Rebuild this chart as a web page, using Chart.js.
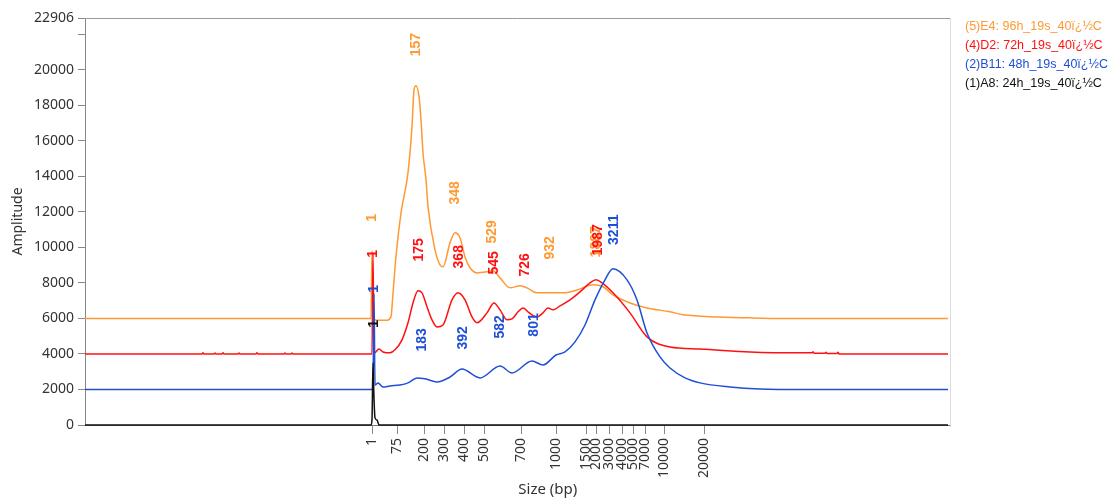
<!DOCTYPE html>
<html>
<head>
<meta charset="utf-8">
<title>Electropherogram overlay</title>
<script src="https://cdn.jsdelivr.net/npm/chart.js@4/dist/chart.umd.min.js"></script>
<style>
    html, body { margin: 0; padding: 0; background: #fff; }
    #wrap { position: relative; width: 1116px; height: 500px; }
</style>
</head>
<body>
<div id="wrap"><canvas id="traceChart" width="1116" height="500"></canvas></div>
<script>
'use strict';

/* ── Data ─────────────────────────────────────────────────────
 * x is the scan position along the run; the size ladder below maps
 * scan positions to the bp labels shown on the axis.
 * ─────────────────────────────────────────────────────────── */
var seriesNames  = ['(5)E4: 96h_19s_40ï¿½C', '(4)D2: 72h_19s_40ï¿½C', '(2)B11: 48h_19s_40ï¿½C', '(1)A8: 24h_19s_40ï¿½C'];
var seriesColors = ['#FF9933', '#FF1010', '#1F4FD6', '#111111'];

var sizeLabels = [1, 75, 200, 300, 400, 500, 700, 1000, 1500, 2000, 3000, 4000, 5000, 7000, 10000, 20000];
var sizeScan   = [287, 312, 339, 359, 379, 399, 436, 471, 501, 511, 524, 537, 548, 560, 579, 619];

var yTickValues = [0, 2000, 4000, 6000, 8000, 10000, 12000, 14000, 16000, 18000, 20000, 22000, 22906];
var yMax = 22906;

// [scan, amplitude]
var e4Trace = [
    [0, 6000], [286, 6000], [287, 9800], [288, 6050], [292, 5900], [302, 5900], [306, 6100], [308, 7400],
    [311, 9500], [316, 11940], [323, 14200], [327, 16800], [329, 18870], [331, 19100], [334, 18480],
    [336, 17180], [338, 15320], [341, 13800], [343, 12300], [350, 9860], [355, 9010], [358, 8900],
    [365, 10250], [370, 10820], [375, 10540], [380, 9460], [385, 8850], [392, 8560], [402, 8620],
    [408, 8680], [415, 8280], [425, 7720], [435, 7830], [442, 7720], [452, 7440], [472, 7440],
    [485, 7490], [495, 7660], [508, 7890], [518, 7780], [528, 7320], [545, 6870], [562, 6590],
    [585, 6370], [598, 6200], [635, 6080], [665, 6030], [700, 6000], [863, 6000]
];
var d2Trace = [
    [0, 4000], [117, 4000], [118, 4060], [119, 4000], [129, 4000], [130, 4050], [131, 4000],
    [137, 4000], [138, 4070], [139, 4000], [153, 4000], [154, 4050], [155, 4000], [171, 4000],
    [172, 4060], [173, 4000], [199, 4000], [200, 4050], [201, 4000], [206, 4000], [207, 4050],
    [208, 4000], [287, 4000], [288, 9700], [289, 4050], [290, 4070], [294, 4280], [298, 4110],
    [305, 4060], [310, 4230], [317, 4790], [323, 5750], [328, 6870], [333, 7550], [337, 7440],
    [342, 6650], [347, 5920], [352, 5520], [358, 5630], [367, 7040], [373, 7440], [380, 7040],
    [387, 6080], [392, 5750], [402, 6310], [409, 6870], [415, 6480], [422, 5920], [427, 5970],
    [433, 6370], [438, 6590], [443, 6370], [452, 6080], [458, 6310], [463, 6590], [468, 6480],
    [475, 6700], [485, 7040], [495, 7490], [505, 8000], [511, 8170], [517, 8000], [528, 7440],
    [545, 6310], [562, 4960], [585, 4390], [615, 4280], [665, 4110], [715, 4060], [727, 4060],
    [728, 4120], [729, 4040], [740, 4040], [741, 4100], [742, 4030], [752, 4030], [753, 4090],
    [754, 4000], [765, 4000], [863, 4000]
];
var b11Trace = [
    [0, 2000], [287, 2000], [288, 2300], [289, 7400], [290, 2250], [293, 2370], [298, 2140],
    [305, 2200], [315, 2250], [323, 2370], [332, 2650], [340, 2600], [352, 2420], [365, 2700],
    [377, 3150], [395, 2650], [415, 3320], [427, 2930], [447, 3600], [458, 3380], [471, 3940],
    [480, 4110], [490, 4680], [500, 5630], [510, 7040], [520, 8170], [528, 8790], [542, 8170],
    [552, 7040], [562, 5180], [575, 3830], [585, 3210], [600, 2650], [615, 2370], [645, 2140],
    [675, 2030], [720, 2000], [863, 2000]
];
var a8Trace = [
    [0, 0], [286, 0], [287, 300], [288, 3500], [289, 1500], [290, 400], [292, 280], [294, 0], [863, 0]
];

// peak calls: [text, scan, amplitude at label centre]
var e4Peaks  = [['1', 287, 11660], ['157', 331, 21410], ['348', 370, 13070], ['529', 407, 10870], ['932', 465, 9970], ['1887', 511, 10310]];
var d2Peaks  = [['1', 288, 9630], ['175', 334, 9860], ['368', 374, 9470], ['545', 409, 9130], ['726', 440, 9010], ['1987', 513, 10420]];
var b11Peaks = [['1', 289, 7660], ['183', 337, 4790], ['392', 378, 4900], ['582', 415, 5520], ['801', 449, 5630], ['3211', 529, 10990]];
var a8Peaks  = [['1', 289, 5690]];

(function () {
    document.addEventListener('DOMContentLoaded', init);

    function toPoints(trace) {
        return trace.map(function (p) { return { x: p[0], y: p[1] }; });
    }

    function init() {
        if (typeof window.Chart === 'undefined') return;

        var traces = [e4Trace, d2Trace, b11Trace, a8Trace];
        var peaks  = [e4Peaks, d2Peaks, b11Peaks, a8Peaks];

        var datasets = traces.map(function (t, i) {
            return {
                label: seriesNames[i],
                data: toPoints(t),
                borderColor: seriesColors[i],
                borderWidth: 1.5,
                pointRadius: 0,
                cubicInterpolationMode: 'monotone',
                clip: 4,
                order: traces.length - i,   // orange at the back, black in front
            };
        });

        var tickFont = { family: '"Noto Sans", sans-serif', size: 14 };

        /* frame, legend text, peak calls, x title */
        var decor = {
            id: 'decor',
            afterDatasetsDraw: function (chart) {
                var ctx = chart.ctx, a = chart.chartArea;
                var xs = chart.scales.x, ys = chart.scales.y;
                ctx.save();

                ctx.strokeStyle = '#9a9a9a';
                ctx.lineWidth = 1;
                ctx.beginPath();
                ctx.moveTo(a.left, a.top + 0.5);
                ctx.lineTo(a.right, a.top + 0.5);
                ctx.stroke();
                ctx.strokeStyle = '#dcdcdc';
                ctx.beginPath();
                ctx.moveTo(a.right + 0.5, a.top);
                ctx.lineTo(a.right + 0.5, a.bottom + 2);
                ctx.stroke();

                // peak call labels, rotated
                ctx.font = 'bold 14px "Liberation Sans", Arial, sans-serif';
                ctx.textAlign = 'center';
                ctx.textBaseline = 'middle';
                peaks.forEach(function (list, i) {
                    ctx.fillStyle = seriesColors[i];
                    list.forEach(function (pk) {
                        ctx.save();
                        ctx.translate(xs.getPixelForValue(pk[1]), ys.getPixelForValue(pk[2]));
                        ctx.rotate(-Math.PI / 2);
                        ctx.fillText(pk[0], 0, 0);
                        ctx.restore();
                    });
                });

                // legend: coloured text only
                ctx.font = '12.5px "Liberation Sans", Arial, sans-serif';
                ctx.textAlign = 'left';
                seriesNames.forEach(function (name, i) {
                    ctx.fillStyle = seriesColors[i];
                    ctx.fillText(name, a.right + 15, a.top + 9 + i * 19);
                });

                // x title
                ctx.fillStyle = '#333';
                ctx.font = '15px "Noto Sans", sans-serif';
                ctx.textAlign = 'center';
                ctx.fillText('Size (bp)', a.left + a.width * 0.535, 490);
                ctx.restore();
            },
        };

        new Chart(document.getElementById('traceChart').getContext('2d'), {
            type: 'line',
            data: { datasets: datasets },
            plugins: [decor],
            options: {
                responsive: false,
                animation: false,
                layout: { padding: { top: 18, right: 166, left: 0, bottom: 0 } },
                plugins: { legend: { display: false }, tooltip: { enabled: false } },
                scales: {
                    x: {
                        type: 'linear',
                        min: 0,
                        max: 865,
                        afterFit: function (s) { s.height = 75; },
                        afterBuildTicks: function (s) {
                            s.ticks = sizeScan.map(function (v) { return { value: v }; });
                        },
                        grid: { drawOnChartArea: false, tickLength: 9, color: '#888' },
                        border: { display: true, color: '#777' },
                        ticks: {
                            autoSkip: false,
                            minRotation: 90,
                            maxRotation: 90,
                            padding: 4,
                            color: '#333',
                            font: tickFont,
                            callback: function (v) {
                                var k = sizeScan.indexOf(v);
                                return k < 0 ? '' : String(sizeLabels[k]);
                            },
                        },
                    },
                    y: {
                        min: 0,
                        max: yMax,
                        afterFit: function (s) { s.width = 85; },
                        afterBuildTicks: function (s) {
                            s.ticks = yTickValues.map(function (v) { return { value: v }; });
                        },
                        grid: { drawOnChartArea: false, tickLength: 7, color: '#888' },
                        border: { display: true, color: '#888' },
                        title: {
                            display: true,
                            text: 'Amplitude',
                            color: '#333',
                            font: { family: '"Noto Sans", sans-serif', size: 14 },
                            padding: { top: 10, bottom: 0 },
                        },
                        ticks: {
                            padding: 4,
                            color: '#333',
                            font: tickFont,
                            callback: function (v) { return v === 22000 ? '' : String(v); },
                        },
                    },
                },
            },
        });
    }
})();
</script>
</body>
</html>
